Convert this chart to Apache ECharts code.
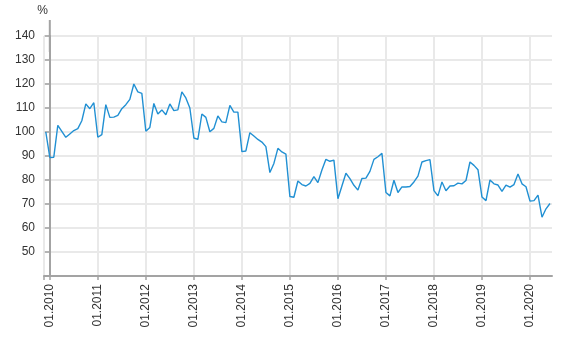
<!DOCTYPE html>
<html>
<head>
<meta charset="utf-8">
<script src="https://cdn.jsdelivr.net/npm/echarts@6/dist/echarts.min.js"></script>
<style>
html,body{margin:0;padding:0;background:#fff;}
#chart{width:566px;height:344px;}
</style>
</head>
<body>
<div id="chart"></div>
<script>
// Monthly values, first value is 12.2009, last is 06.2020
const startYear = 2009;
const startMonth = 12;
const v2009 = [100];
const v2010 = [89.4, 89.5, 102.8, 100.3, 97.8, 99.2, 100.6, 101.4, 104.7, 111.7, 109.7, 112.2];
const v2011 = [97.8, 98.9, 111.4, 106.1, 106.2, 106.9, 109.7, 111.4, 113.6, 120, 116.7, 116.1];
const v2012 = [100.3, 101.9, 111.9, 107.5, 109.2, 107.2, 111.7, 108.9, 109.2, 116.7, 114.2, 110];
const v2013 = [97.5, 96.9, 107.5, 106.1, 100.1, 101.5, 106.7, 104.2, 103.9, 111.1, 108.3, 108.3];
const v2014 = [91.8, 92.1, 99.7, 98.3, 96.9, 95.8, 93.9, 83.1, 86.9, 93.2, 91.7, 90.8];
const v2015 = [73.1, 72.8, 79.6, 78.1, 77.5, 78.6, 81.4, 78.9, 84.2, 88.6, 87.8, 88.3];
const v2016 = [72.2, 77.5, 82.8, 80.6, 77.8, 75.8, 80.6, 80.8, 83.6, 88.6, 89.7, 91.1];
const v2017 = [74.8, 73.4, 79.9, 74.8, 77.1, 77.1, 77.3, 79.2, 81.6, 87.5, 88.1, 88.5];
const v2018 = [75.6, 73.4, 79.2, 75.5, 77.5, 77.6, 78.7, 78.4, 79.8, 87.5, 86.1, 84.3];
const v2019 = [72.9, 71.4, 80, 78.4, 77.9, 75.3, 77.9, 77, 78.1, 82.5, 78.4, 77.2];
const v2020 = [71.2, 71.4, 73.7, 64.5, 68, 70.2];

const tickLabels = ['01.2010','01.2011','01.2012','01.2013','01.2014','01.2015','01.2016','01.2017','01.2018','01.2019','01.2020'];
const yTickValues = [40, 50, 60, 70, 80, 90, 100, 110, 120, 130, 140];
const yLabelValues = [50, 60, 70, 80, 90, 100, 110, 120, 130, 140];

const allValues = [].concat(v2009, v2010, v2011, v2012, v2013, v2014, v2015, v2016, v2017, v2018, v2019, v2020);
// x position: months since 01.2010
const firstIndex = (startYear - 2010) * 12 + (startMonth - 1);
const seriesData = allValues.map((v, i) => [firstIndex + i, v]);
const xTickValues = tickLabels.map((t, i) => i * 12);

const chart = echarts.init(document.getElementById('chart'), null, {renderer: 'canvas'});
const axisColor = '#a3a3a3';
const gridColor = '#e9e9e9';
const textColor = '#333';
const font = 'Liberation Sans, Arial, sans-serif';

chart.setOption({
  animation: false,
  backgroundColor: '#fff',
  grid: {left: 44, right: 14, top: 36, bottom: 68, containLabel: false},
  xAxis: {
    type: 'value',
    min: -1.45,
    max: 125.5,
    axisLine: {show: true, lineStyle: {color: axisColor, width: 2}},
    axisTick: {show: true, length: 4, customValues: [-1.45].concat(xTickValues), lineStyle: {color: axisColor, width: 1.5}},
    axisLabel: {
      show: true, rotate: 90, margin: 8, fontSize: 12, color: textColor, fontFamily: font,
      customValues: xTickValues,
      formatter: function (v) { return tickLabels[Math.round(v / 12)]; }
    },
    splitLine: {show: true, lineStyle: {color: gridColor, width: 2}}
  },
  yAxis: {
    type: 'value',
    min: 40,
    max: 140,
    name: '%',
    nameLocation: 'end',
    nameGap: 19,
    nameTextStyle: {fontSize: 12, color: textColor, fontFamily: font, align: 'right', padding: [0, 2, 0, 0]},
    axisLine: {show: true, symbol: ['none', 'rect'], symbolSize: [2, 32], lineStyle: {color: axisColor, width: 2}},
    axisTick: {show: true, length: 5, customValues: yTickValues, lineStyle: {color: axisColor, width: 1.5}},
    axisLabel: {show: true, margin: 9, fontSize: 12, color: textColor, fontFamily: font, customValues: yLabelValues},
    splitLine: {show: true, lineStyle: {color: gridColor, width: 2}}
  },
  series: [{
    type: 'line',
    data: seriesData,
    showSymbol: false,
    symbol: 'none',
    lineStyle: {color: '#2190d3', width: 1.4},
    z: 5
  }]
});
</script>
</body>
</html>
